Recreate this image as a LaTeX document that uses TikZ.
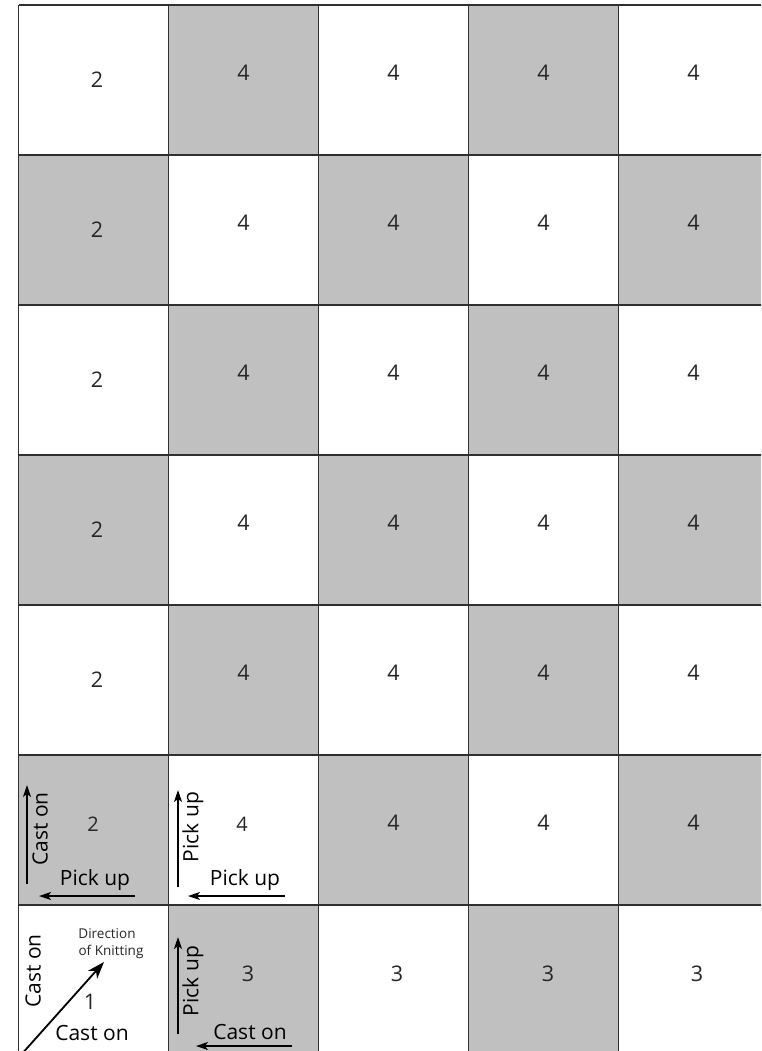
\documentclass[tikz,border=0pt]{standalone}
\usepackage{fontspec}
\setmainfont{Open Sans}
\usetikzlibrary{arrows.meta}
\definecolor{cellgray}{HTML}{C0C0C0}
\definecolor{gridline}{HTML}{303030}
\tikzset{
  num/.style={font=\fontsize{21.5}{21.5}\selectfont, text=black!85, inner sep=0pt},
  smallnum/.style={font=\fontsize{20}{20}\selectfont, text=black!85, inner sep=0pt},
  note/.style={font=\fontsize{21}{21}\selectfont, text=black, inner sep=0pt},
  tiny/.style={font=\fontsize{13.5}{13.5}\selectfont, text=black!85, inner sep=0pt},
  arr/.style={-{Stealth[length=12pt,width=8pt,inset=3pt]}, line width=1.3pt, black},
  bigarr/.style={-{Stealth[length=17pt,width=12pt,inset=5pt]}, line width=1.8pt, black},
  gridpen/.style={line width=1.4pt, draw=gridline}
}
\begin{document}
\begin{tikzpicture}[x=1pt,y=-1pt]
\useasboundingbox (0,0) rectangle (761,1051);
\fill[white] (0,0) rectangle (761,1051);
\begin{scope}
\clip (0,0) rectangle (761,1051);
% checkerboard cells
\foreach \r in {0,...,6}{
  \foreach \c in {0,...,4}{
    \pgfmathtruncatemacro{\odd}{mod(\r+\c,2)}
    \ifnum\odd=1
      \fill[cellgray] (18.5+150*\c,5+150*\r) rectangle (168.5+150*\c,155+150*\r);
    \fi
  }
}
% grid lines
\foreach \c in {0,...,5}{
  \draw[gridpen] (18.5+150*\c,5) -- (18.5+150*\c,1060);
}
\foreach \r in {0,...,7}{
  \draw[gridpen] (18.5,5+150*\r) -- (770,5+150*\r);
}
\end{scope}
% numbers rows 0-4
\foreach \r in {0,...,4}{
  \node[num] (n\r c0) at (97,80+150*\r) {2};
  \foreach \c in {1,...,4}{
    \node[num] (n\r c\c) at (243.5+150*\c-150,73+150*\r) {4};
  }
}
% row 5
\node[smallnum] (n5c0) at (93,824) {2};
\node[smallnum] (n5c1) at (242,824) {4};
\foreach \c in {2,3,4}{
  \node[num] (n5c\c) at (243.5+150*\c-150,823) {4};
}
% row 6
\node[num] (n6c1) at (248,974) {3};
\node[num] (n6c2) at (397,974) {3};
\node[num] (n6c3) at (548,974) {3};
\node[num] (n6c4) at (697,974) {3};
\node[num] (n6c0) at (90,1002) {1};

% cell (5,0) annotations
\node[note, rotate=90] (castA) at (40,829) {Cast on};
\node[note] (pickA) at (95,880) {Pick up};
\coordinate (a1s) at (27,884);
\coordinate (a1e) at (27,785);
\draw[arr] (a1s) -- (a1e);
\coordinate (a2s) at (135,896);
\coordinate (a2e) at (39,896);
\draw[arr] (a2s) -- (a2e);

% cell (5,1) annotations
\node[note, rotate=90] (pickB) at (193,827) {Pick up};
\node[note] (pickC) at (245,880) {Pick up};
\coordinate (b1s) at (178,887);
\coordinate (b1e) at (178,790);
\draw[arr] (b1s) -- (b1e);
\coordinate (b2s) at (285,896);
\coordinate (b2e) at (188,896);
\draw[arr] (b2s) -- (b2e);

% cell (6,0) annotations
\node[tiny] (dir1) at (107,934) {Direction};
\node[tiny] (dir2) at (111,952) {of Knitting};
\node[note, rotate=90] (castB) at (33,971) {Cast on};
\node[note] (castC) at (92,1033) {Cast on};
\coordinate (d1s) at (20,1056);
\coordinate (d1e) at (104,962);
\draw[bigarr] (d1s) -- (d1e);

% cell (6,1) annotations
\node[note, rotate=90] (pickD) at (193,981) {Pick up};
\node[note] (castD) at (250,1032) {Cast on};
\coordinate (e1s) at (178,1034);
\coordinate (e1e) at (178,937);
\draw[arr] (e1s) -- (e1e);
\coordinate (e2s) at (292,1046);
\coordinate (e2e) at (196,1046);
\draw[arr] (e2s) -- (e2e);
\end{tikzpicture}
\end{document}
